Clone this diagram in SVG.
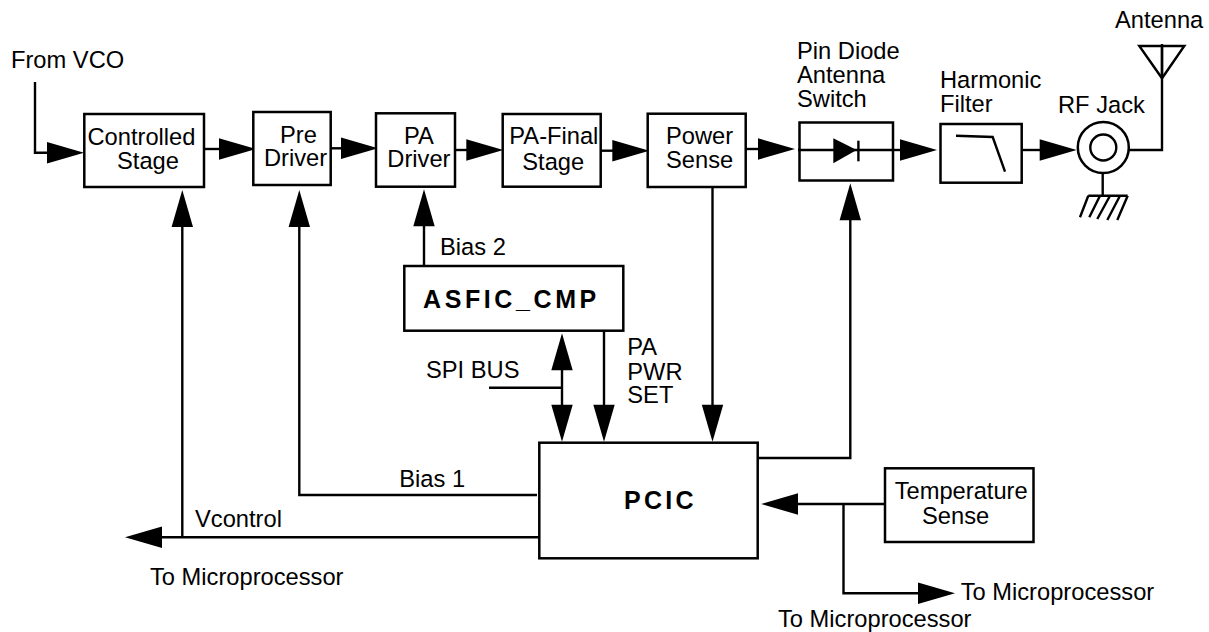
<svg xmlns="http://www.w3.org/2000/svg" width="1209" height="632" viewBox="0 0 1209 632">
<style>
text{font-family:"Liberation Sans",Arial,sans-serif;font-size:23.7px;fill:#000}
.b{font-weight:bold;font-size:25px}
.box{fill:#fff;stroke:#000;stroke-width:2.5}
.w{fill:none;stroke:#000;stroke-width:2.4}
.h{fill:#000;stroke:none}
</style>
<defs>
<polygon id="ar" class="h" points="0,0 -37,-10.7 -37,10.7"/>
<polygon id="au" class="h" points="0,0 -10.7,37 10.7,37"/>
<polygon id="ad" class="h" points="0,0 -10.7,-37 10.7,-37"/>
</defs>
<rect width="1209" height="632" fill="#fff"/>
<g id="connectors">
<path class="w" d="M35 82V152.700H60"/><use href="#ar" x="84" y="152.700"/>
<path class="w" d="M204 149H230"/><use href="#ar" x="256" y="149"/>
<path class="w" d="M331 148.300H350"/><use href="#ar" x="378" y="148.300"/>
<path class="w" d="M455 150H475"/><use href="#ar" x="503.300" y="150"/>
<path class="w" d="M600 150.700H620"/><use href="#ar" x="649.300" y="150.700"/>
<path class="w" d="M745 149H765"/><use href="#ar" x="795" y="149"/>
<path class="w" d="M893 150H910"/><use href="#ar" x="937" y="150"/>
<path class="w" d="M1021 150H1050"/><use href="#ar" x="1076.700" y="150"/>
<path class="w" d="M1128 150H1162V46"/>
<path class="w" d="M1102.700 172V195"/>
<path class="w" d="M1088.300 195.700H1127.700M1088.300 195.700L1080 217.300M1100 195.700L1089.300 217.300M1110 195.700L1097.300 219M1120 195.700L1107.300 220M1127.700 195.700L1117.300 220"/>
<path class="w" d="M1139.300 46H1184.300L1162 78.300Z"/>
<path class="w" d="M182.300 537V200"/><use href="#au" x="182.300" y="190"/>
<path class="w" d="M539 537.300H140"/><use href="#ar" transform="translate(125 537.300) rotate(180)"/>
<path class="w" d="M537 495H299.300V200"/><use href="#au" x="299.300" y="190"/>
<path class="w" d="M424 266V200"/><use href="#au" x="424" y="189.300"/>
<path class="w" d="M562 340V430"/><use href="#au" x="562" y="333.300"/><use href="#ad" x="562" y="441.700"/>
<path class="w" d="M489 387.700H562"/>
<path class="w" d="M604 331V430"/><use href="#ad" x="604" y="441.700"/>
<path class="w" d="M712.500 186V430"/><use href="#ad" x="712.500" y="441.700"/>
<path class="w" d="M758 458H850.300V200"/><use href="#au" x="850.300" y="183.300"/>
<path class="w" d="M885 504H780"/><use href="#ar" transform="translate(761 504) rotate(180)"/>
<path class="w" d="M843.500 504V593.300H930"/><use href="#ar" x="955" y="593.300"/>
</g>
<g id="from-vco"><text x="11" y="68">From VCO</text></g>
<g id="controlled-stage"><rect class="box" x="84.300" y="114" width="119.700" height="73"/><text x="87.500" y="145">Controlled</text><text x="117" y="169">Stage</text></g>
<g id="pre-driver"><rect class="box" x="253.300" y="112" width="77.400" height="73"/><text x="280" y="143">Pre</text><text x="264" y="166">Driver</text></g>
<g id="pa-driver"><rect class="box" x="376" y="113.300" width="79" height="73.400"/><text x="404" y="144.300">PA</text><text x="387.300" y="166.700">Driver</text></g>
<g id="pa-final"><rect class="box" x="502.700" y="114" width="98" height="72.700"/><text x="509.300" y="144.300">PA-Final</text><text x="522.300" y="170">Stage</text></g>
<g id="power-sense"><rect class="box" x="647.700" y="113.700" width="98" height="73.300"/><text x="666" y="144.300">Power</text><text x="666" y="168.300">Sense</text></g>
<g id="pin-diode">
<text x="797" y="59">Pin Diode</text><text x="797" y="83">Antenna</text><text x="797" y="107">Switch</text>
<rect class="box" x="799.500" y="122.500" width="93.500" height="58"/>
<path class="w" d="M798 150H893"/><polygon class="h" points="856.700,150 833.300,138.300 833.300,163.300"/><path class="w" d="M858.400 140.700V161.300"/>
</g>
<g id="harmonic-filter">
<text x="940" y="88">Harmonic</text><text x="940" y="112">Filter</text>
<rect class="box" x="940.500" y="124" width="81.200" height="58.700"/><path class="w" d="M956 135.700L992.700 137L1005 171.700"/>
</g>
<g id="rf-jack">
<text x="1058" y="113">RF Jack</text>
<circle class="box" cx="1103.300" cy="147.500" r="25.500"/><circle class="w" cx="1103.300" cy="147.500" r="13"/>
</g>
<g id="antenna"><text x="1115" y="28">Antenna</text><path class="w" d="M1162 44V78"/></g>
<g id="asfic-cmp"><rect class="box" x="404.300" y="266" width="219" height="64.700"/><text class="b" x="423" y="307.700" letter-spacing="3.600">ASFIC_CMP</text></g>
<g id="pcic"><rect class="box" x="539.300" y="442.700" width="218.400" height="115.600"/><text class="b" x="624" y="509" letter-spacing="3.300">PCIC</text></g>
<g id="temperature-sense"><rect class="box" x="885" y="468.300" width="148.500" height="73.700"/><text x="894.700" y="499.300">Temperature</text><text x="922" y="524">Sense</text></g>
<g id="labels">
<text x="440" y="255">Bias 2</text>
<text x="426" y="378">SPI BUS</text>
<text x="627.300" y="355">PA</text><text x="627.300" y="380">PWR</text><text x="627.300" y="403.300">SET</text>
<text x="399.300" y="486.700">Bias 1</text>
<text x="195" y="526.700">Vcontrol</text>
<text x="150" y="585">To Microprocessor</text>
<text x="960.700" y="600">To Microprocessor</text>
<text x="778" y="627">To Microprocessor</text>
</g>
</svg>
